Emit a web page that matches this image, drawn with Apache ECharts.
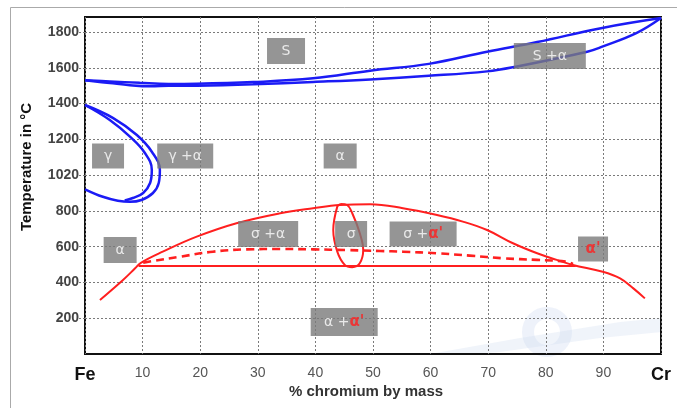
<!DOCTYPE html>
<html><head><meta charset="utf-8">
<script src="https://cdn.jsdelivr.net/npm/echarts@6/dist/echarts.min.js"></script>
<style>html,body{margin:0;padding:0;background:#fff}#c{width:677px;height:408px}</style>
</head><body><div id="c"></div>
<script>
// ---- tick labels ----
const xTickValues = [0,10,20,30,40,50,60,70,80,90,100];
const xTickLabels = ['Fe','10','20','30','40','50','60','70','80','90','Cr'];
const yTickValues = [200,400,600,800,1000,1200,1400,1600,1800];
const yTickLabels = ['200','400','600','800','1020','1200','1400','1600','1800'];

// ---- blue curves (% Cr, °C) ----
const liquidus = [[0,1530],[4.3,1524],[9.5,1516],[14.5,1510],[19.4,1511],[29.2,1520],[39.6,1541],[49.5,1584],[59.7,1622],[69.8,1690],[78.5,1744],[89.8,1823],[100,1878]];
const solidus = [[0,1530],[4.3,1515],[7.8,1503],[11.3,1497],[14.5,1499],[19.4,1500],[29.2,1508],[39.6,1521],[49.5,1535],[59.7,1555],[69.8,1580],[74.3,1603],[87.2,1690],[89.8,1718],[95.8,1795],[100,1878]];
const gammaOuter = [[0,1392],[4.9,1319],[9.0,1224],[11.6,1131],[13.0,1029],[12.8,956],[11.8,900],[9.8,861],[7.8,851],[5.7,857],[3.1,879],[0,921]];
const gammaInner = [[0,1392],[4.3,1308],[7.8,1215],[10.4,1124],[11.6,1029],[11.3,956],[10.1,900],[8.3,872],[6.9,858]];

// ---- red curves ----
const sigmaDome = [[2.6,302],[6.6,414],[8.7,479],[9.7,510],[13.5,572],[19.4,656],[26.3,731],[33.9,787],[39.6,815],[44.3,833],[49.5,837],[55.2,815],[61.1,777],[65.6,740],[69.8,693],[74.3,619],[78.5,563],[81.9,526],[84.7,498],[89.9,460],[92.9,423],[95.2,367],[97.2,311]];
const solidIsotherm = [[9.3,492],[85.2,492]];
const dashedBoundary = [[10.1,510],[11.8,520],[16.5,544],[22.2,572],[28.1,585],[33.9,587],[39.6,585],[45.5,581],[51.2,576],[55.2,572],[61.1,563],[66.8,550],[72.6,535],[78.5,526],[83.7,516],[84.7,503]];
const sigmaLoop = [[44.4,839],[43.8,824],[43.1,693],[43.8,572],[45.1,498],[46.4,485],[47.7,507],[48.3,581],[47.7,676],[46.4,787],[45.5,833],[44.4,839]];

// ---- phase field labels ----
const fieldTexts = ['{w|S}','{w|S +α}','{w|γ}','{w|γ +α}','{w|α}','{w|α}','{w|σ +α}','{w|σ}','{w|σ +}{r|α\'}','{r|α\'}','{w|α +}{r|α\'}'];
const fieldX = [34.9,80.7,4.0,17.4,44.3,6.1,31.8,46.2,58.7,88.2,45.0];
const fieldY = [1694,1666,1107,1107,1107,581,671,671,671,587,179];
const boxSizes = [[38,26],[72,26],[32,25],[56,25],[33,25],[33,26],[60,26],[32,26],[67,25],[30,25],[67,28]];

const chart = echarts.init(document.getElementById('c'), null, {renderer:'canvas'});
const blue = '#1b1bf5', red = '#ff1f1f';
const FONT = '"Liberation Sans", Arial, sans-serif';
function curve(data, color, width, type) {
  return {type:'line', data:data, showSymbol:false, smooth:0.4, z:3,
    lineStyle:{color:color, width:width, type:type||'solid'}, silent:true};
}
const boxData = fieldTexts.map((t,i)=>({value:[fieldX[i],fieldY[i]], symbolSize:boxSizes[i], label:{formatter:t}}));

chart.setOption({
  animation:false,
  grid:{left:85, right:16, top:17, bottom:54, show:true, borderColor:'#111', borderWidth:2},
  graphic:[
    {type:'rect', shape:{x:10.5,y:7.5,width:800,height:500}, style:{fill:null, stroke:'#aaa', lineWidth:1}, silent:true, z:-10},
    {type:'circle', shape:{cx:547,cy:332,r:19}, style:{fill:null, stroke:'rgba(205,218,240,0.35)', lineWidth:12}, silent:true, z:-5},
    {type:'polygon', shape:{points:[[430,354],[520,338],[620,322],[662,318],[662,332],[600,338],[500,352],[470,354]]}, style:{fill:'rgba(205,218,240,0.3)'}, silent:true, z:-5},
    {type:'text', x:27, y:167, rotation:Math.PI/2, silent:true,
      style:{text:'Temperature in °C', font:'bold 15px ' + FONT, fill:'#111', align:'center', verticalAlign:'middle'}},
    {type:'text', x:366, y:392, silent:true,
      style:{text:'% chromium by mass', font:'bold 15px ' + FONT, fill:'#333', align:'center', verticalAlign:'middle'}}
  ],
  xAxis:{type:'value', min:0, max:100, interval:10,
    axisLine:{show:false}, axisTick:{show:false},
    splitLine:{show:true, lineStyle:{color:'#7a7a7a', type:[2,2], width:1}},
    axisLabel:{margin:12, fontFamily:FONT, fontSize:14, color:'#555',
      formatter:function(v){const i=xTickValues.indexOf(v); if(i===0) return '{b|Fe}'; if(i===10) return '{b|Cr}'; return i>=0?xTickLabels[i]:'';},
      rich:{b:{fontSize:18, fontWeight:'bold', color:'#111', fontFamily:FONT}}}
  },
  yAxis:{type:'value', min:0, max:1884, interval:200,
    axisLine:{show:false},
    axisTick:{show:true, length:6, customValues:yTickValues, lineStyle:{color:'#7a7a7a', type:[2,2]}},
    splitLine:{show:true, lineStyle:{color:'#7a7a7a', type:[2,2], width:1}},
    axisLabel:{margin:6, fontFamily:FONT, fontSize:14, fontWeight:'bold', color:'#444',
      formatter:function(v){const i=yTickValues.indexOf(v); return i>=0?yTickLabels[i]:'';}}
  },
  series:[
    curve(liquidus, blue, 2.5),
    curve(solidus, blue, 2.5),
    curve(gammaOuter, blue, 2.5),
    curve(gammaInner, blue, 2.5),
    curve(sigmaDome, red, 2),
    curve(solidIsotherm, red, 2),
    curve(dashedBoundary, red, 2.6, [8,5]),
    curve(sigmaLoop, red, 2),
    {type:'scatter', data:boxData, symbol:'rect', z:5, silent:true,
      itemStyle:{color:'#7a7a7a'},
      label:{show:true, position:'inside',
        rich:{w:{color:'#fff', fontSize:14, fontFamily:'"DejaVu Sans", sans-serif'},
              r:{color:'#ff2020', fontSize:15, fontWeight:'bold', fontFamily:'"DejaVu Sans", sans-serif'}}}}
  ]
});
</script></body></html>
